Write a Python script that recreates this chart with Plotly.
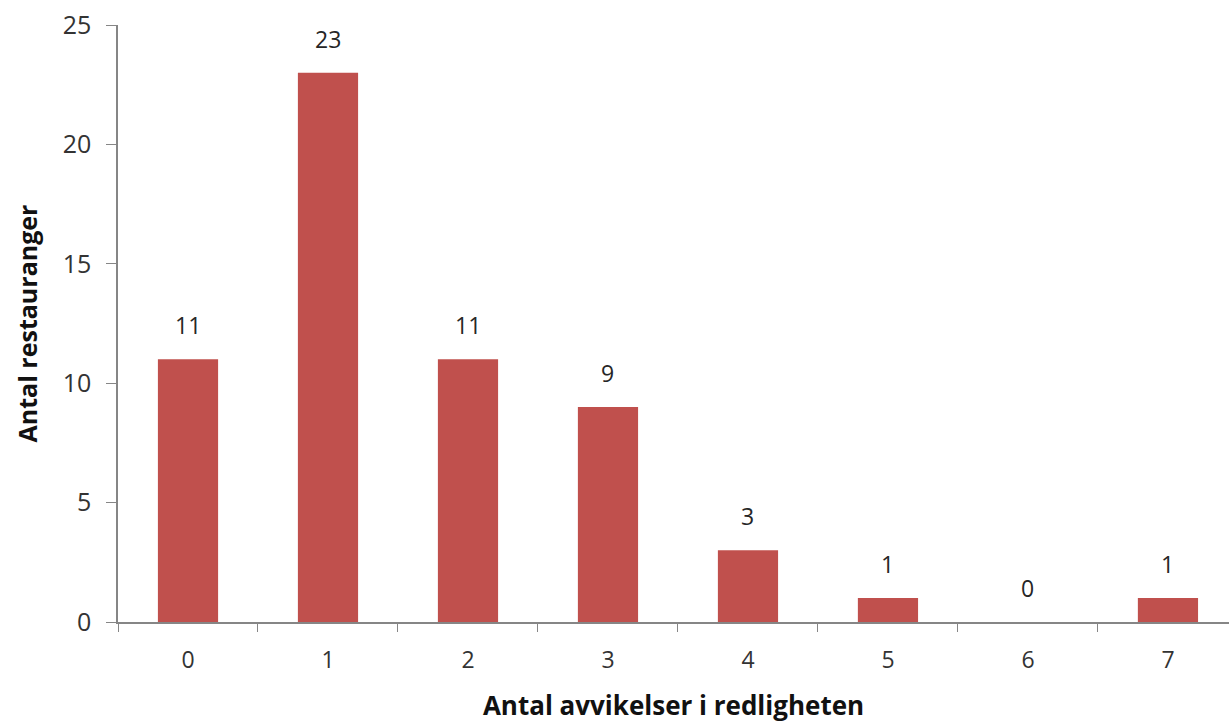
import plotly.graph_objects as go

# Antal avvikelser (kategorier) och antal restauranger per kategori
categories = ["0", "1", "2", "3", "4", "5", "6", "7"]
counts = [11, 23, 11, 9, 3, 1, 0, 1]
y_ticks = [0, 5, 10, 15, 20, 25]

bar_color = "#C0504D"
axis_color = "#868686"
font_family = "Open Sans, Liberation Sans, sans-serif"

fig = go.Figure(
    go.Bar(
        x=categories,
        y=counts,
        marker=dict(color=bar_color, line=dict(width=0)),
        width=0.43,
        hoverinfo="x+y",
    )
)

# Value labels above each bar
for cat, val in zip(categories, counts):
    fig.add_annotation(
        x=cat, y=val, text=str(val), showarrow=False,
        yanchor="bottom", yshift=16,
        font=dict(family=font_family, size=23, color="#262626"),
    )

fig.update_layout(
    width=1229,
    height=724,
    margin=dict(l=118, r=0, t=25, b=102),
    paper_bgcolor="white",
    plot_bgcolor="white",
    showlegend=False,
    bargap=0.57,
    font=dict(family=font_family, color="#333333"),
)

fig.update_xaxes(
    type="category",
    range=[-0.5, 7.436],
    showline=True, linecolor=axis_color, linewidth=1.5,
    ticks="outside", tickson="boundaries", ticklen=8, tickcolor=axis_color,
    showgrid=False, zeroline=False,
    tickfont=dict(family=font_family, size=23, color="#333333"),
    ticklabelstandoff=17,
    title=dict(text="<b>Antal avvikelser i redligheten</b>",
               font=dict(family=font_family, size=26, color="#111111"),
               standoff=22),
)

fig.update_yaxes(
    range=[0, 25],
    tickvals=y_ticks,
    showline=True, linecolor=axis_color, linewidth=1.5,
    ticks="outside", ticklen=10, tickcolor=axis_color,
    showgrid=False, zeroline=False,
    tickfont=dict(family=font_family, size=25, color="#333333"),
    ticklabelstandoff=10,
    title=dict(text="<b>Antal restauranger</b>",
               font=dict(family=font_family, size=25, color="#111111"),
               standoff=18),
)

fig.write_html("out.html")
